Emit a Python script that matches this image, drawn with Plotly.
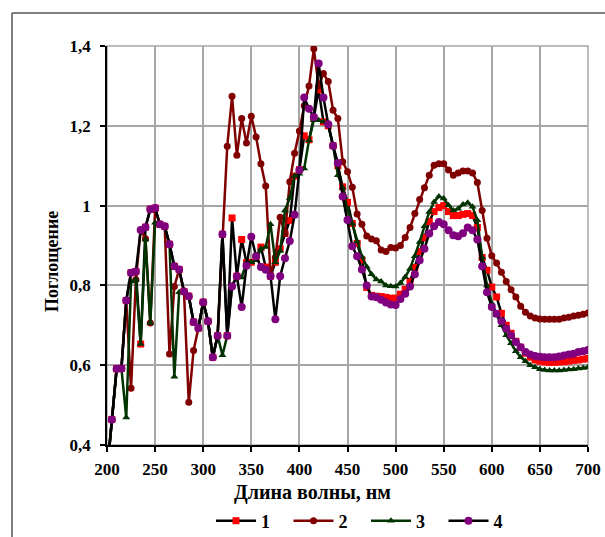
import plotly.graph_objects as go

wavelength = list(range(200, 705, 5))

s1 = [0.33, 0.464, 0.591, 0.592, 0.762, 0.832, 0.835, 0.653, 0.946, 0.991,
      0.994, 0.953, 0.948, 0.903, 0.848, 0.840, 0.785, 0.773, 0.708, 0.693,
      0.758, 0.710, 0.620, 0.674, 0.928, 0.674, 0.969, 0.823, 0.915, 0.857,
      0.858, 0.870, 0.896, 0.846, 0.823, 0.858, 0.892, 0.930, 0.963, 1.074,
      1.090, 1.175, 1.165, 1.220, 1.290, 1.210, 1.200, 1.150, 1.100, 1.047,
      1.008, 0.955, 0.905, 0.864, 0.795, 0.775, 0.773, 0.772, 0.770, 0.768,
      0.768, 0.778, 0.790, 0.810, 0.845, 0.885, 0.920, 0.960, 0.985, 0.995,
      1.000, 0.985, 0.975, 0.975, 0.978, 0.980, 0.975, 0.945, 0.870, 0.838,
      0.796, 0.771, 0.730, 0.700, 0.680, 0.660, 0.645, 0.630, 0.620, 0.613,
      0.610, 0.608, 0.607, 0.607, 0.608, 0.609, 0.610, 0.612, 0.613, 0.615,
      0.617]

s2 = [0.33, 0.464, 0.591, 0.592, 0.762, 0.542, 0.814, 0.939, 0.917, 0.706,
      0.990, 0.953, 0.948, 0.628, 0.797, 0.840, 0.785, 0.507, 0.637, 0.693,
      0.758, 0.710, 0.620, 0.674, 0.928, 1.149, 1.274, 1.126, 1.218, 1.157,
      1.224, 1.172, 1.105, 1.049, 0.827, 0.870, 0.971, 0.930, 1.060, 1.131,
      1.187, 1.250, 1.300, 1.393, 1.300, 1.331, 1.311, 1.239, 1.218, 1.110,
      1.085, 1.046, 0.979, 0.953, 0.924, 0.916, 0.912, 0.889, 0.885, 0.895,
      0.894, 0.900, 0.920, 0.945, 0.980, 1.015, 1.045, 1.076, 1.101, 1.105,
      1.105, 1.089, 1.076, 1.082, 1.087, 1.087, 1.082, 1.058, 0.988, 0.918,
      0.874, 0.856, 0.833, 0.810, 0.789, 0.771, 0.748, 0.733, 0.723, 0.718,
      0.716, 0.715, 0.715, 0.715, 0.715, 0.718, 0.720, 0.723, 0.725, 0.728,
      0.731]

s3 = [0.33, 0.464, 0.591, 0.592, 0.469, 0.810, 0.814, 0.653, 0.915, 0.706,
      0.957, 0.953, 0.948, 0.903, 0.571, 0.783, 0.785, 0.773, 0.708, 0.693,
      0.758, 0.710, 0.620, 0.674, 0.625, 0.674, 0.800, 0.823, 0.820, 0.858,
      0.858, 0.863, 0.892, 0.896, 0.953, 0.858, 0.886, 0.988, 1.019, 1.074,
      1.080, 1.093, 1.164, 1.214, 1.214, 1.210, 1.204, 1.150, 1.076, 1.045,
      0.990, 0.955, 0.910, 0.872, 0.847, 0.828, 0.815, 0.810, 0.800, 0.798,
      0.797, 0.806, 0.821, 0.842, 0.873, 0.909, 0.948, 0.984, 1.009, 1.023,
      1.018, 1.001, 0.988, 0.992, 1.003, 1.007, 0.997, 0.963, 0.870, 0.800,
      0.755, 0.725, 0.700, 0.675, 0.655, 0.635, 0.620, 0.610, 0.600, 0.595,
      0.590, 0.588, 0.587, 0.587, 0.587, 0.588, 0.589, 0.590, 0.592, 0.593,
      0.595]

s4 = [0.33, 0.464, 0.591, 0.592, 0.762, 0.832, 0.835, 0.939, 0.946, 0.991,
      0.994, 0.953, 0.948, 0.903, 0.848, 0.840, 0.785, 0.773, 0.708, 0.693,
      0.758, 0.710, 0.620, 0.674, 0.928, 0.674, 0.797, 0.823, 0.746, 0.849,
      0.922, 0.873, 0.846, 0.839, 0.823, 0.715, 0.823, 0.868, 0.911, 0.977,
      1.089, 1.271, 1.243, 1.222, 1.356, 1.271, 1.204, 1.150, 1.107, 1.023,
      0.964, 0.898, 0.873, 0.840, 0.800, 0.772, 0.770, 0.764, 0.757, 0.752,
      0.751, 0.766, 0.779, 0.797, 0.828, 0.863, 0.892, 0.930, 0.948, 0.959,
      0.953, 0.938, 0.926, 0.923, 0.931, 0.945, 0.938, 0.915, 0.848, 0.783,
      0.746, 0.729, 0.710, 0.692, 0.675, 0.658, 0.645, 0.633, 0.627, 0.623,
      0.621, 0.620, 0.620, 0.620, 0.622, 0.624, 0.627, 0.629, 0.633, 0.635,
      0.638]

series_names = ["1", "2", "3", "4"]
x_ticks = [200, 250, 300, 350, 400, 450, 500, 550, 600, 650, 700]
y_ticks = [0.4, 0.6, 0.8, 1.0, 1.2, 1.4]
y_ticktext = ["0,4", "0,6", "0,8", "1", "1,2", "1,4"]

FONT = "Liberation Serif"

styles = [
    dict(line=dict(color="#000000", width=2.5),
         marker=dict(symbol="square", size=7, color="#ff0000")),
    dict(line=dict(color="#800000", width=2.5),
         marker=dict(symbol="circle", size=7, color="#800000")),
    dict(line=dict(color="#003300", width=2.5),
         marker=dict(symbol="triangle-up", size=7, color="#003300")),
    dict(line=dict(color="#000000", width=2.5),
         marker=dict(symbol="circle", size=8, color="#800080")),
]

fig = go.Figure()
for name, ys, st in zip(series_names, [s1, s2, s3, s4], styles):
    fig.add_trace(go.Scatter(x=wavelength, y=ys, name="<b>" + name + "</b>\u00a0\u00a0\u00a0",
                             mode="lines+markers", line=st["line"], marker=st["marker"]))

axis_common = dict(
    showgrid=True, gridcolor="#a6a6a6", gridwidth=1.5,
    showline=True, linecolor="#000000", linewidth=1.5,
    ticks="outside", ticklen=5, tickcolor="#000000", tickwidth=1.5,
    tickfont=dict(family=FONT, size=17, color="#000000"),
    zeroline=False,
)

fig.update_xaxes(range=[200, 700], tickvals=x_ticks,
                 ticktext=["<b>%d</b>" % v for v in x_ticks],
                 ticklabelstandoff=3, **axis_common)
fig.update_yaxes(range=[0.4, 1.4], tickvals=y_ticks,
                 ticktext=["<b>%s</b>" % t for t in y_ticktext],
                 ticklabelstandoff=6, **axis_common)

L, R, T, B = 107, 17, 46, 92
pw = 605 - L - R
ph = 537 - T - B

def px(x):
    return (x - L) / pw

def py(y):
    return (537 - B - y) / ph

fig.update_layout(
    width=605, height=537,
    font=dict(family=FONT, color="#000000"),
    margin=dict(l=L, r=R, t=T, b=B, autoexpand=False),
    paper_bgcolor="white", plot_bgcolor="white",
    showlegend=True,
    legend=dict(orientation="h", x=px(366), xanchor="center", y=py(521), yanchor="middle",
                font=dict(family=FONT, size=18, color="#000000"),
                itemwidth=40, tracegroupgap=0, bgcolor="rgba(0,0,0,0)"),
    shapes=[
        dict(type="rect", xref="x domain", yref="y domain", x0=0, x1=1, y0=0, y1=1,
             line=dict(color="#a6a6a6", width=1.5), layer="below"),
        dict(type="line", xref="paper", yref="paper", x0=px(12), x1=px(12), y0=py(545), y1=py(13),
             line=dict(color="#555555", width=1.5)),
        dict(type="line", xref="paper", yref="paper", x0=px(12), x1=px(615), y0=py(13), y1=py(13),
             line=dict(color="#555555", width=1.5)),
    ],
    annotations=[
        dict(text="<b>Длина волны, нм</b>", xref="paper", yref="paper", x=px(312), y=py(492),
             xanchor="center", yanchor="middle", showarrow=False,
             font=dict(family=FONT, size=20, color="#000000")),
        dict(text="<b>Поглощение</b>", xref="paper", yref="paper", x=px(52), y=py(262),
             xanchor="center", yanchor="middle", showarrow=False, textangle=-90,
             font=dict(family=FONT, size=18, color="#000000")),
    ],
)

fig.write_html("out.html")
